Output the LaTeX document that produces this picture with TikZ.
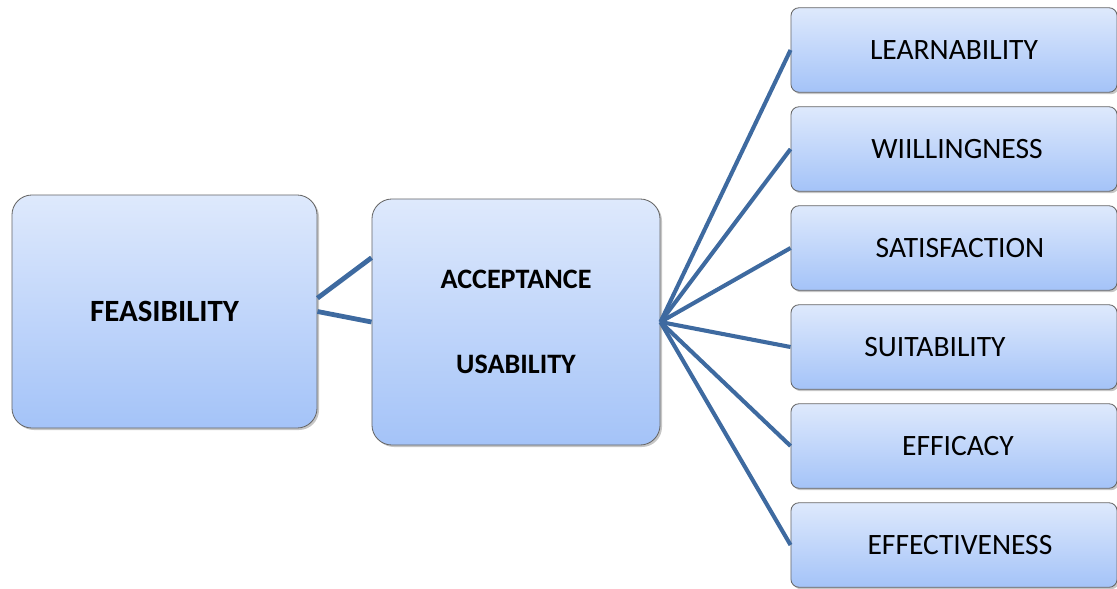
\documentclass[tikz,border=0pt]{standalone}
\usepackage{fontspec}
\setmainfont{Carlito}
\usetikzlibrary{shadows}
\definecolor{linkblue}{RGB}{62,106,160}
\definecolor{boxtop}{RGB}{222,233,252}
\definecolor{boxbot}{RGB}{164,195,248}
\begin{document}
\begin{tikzpicture}[x=0.025cm, y=-0.025cm,
    box/.style={draw=black!60, line width=0.6pt, top color=boxtop,
      bottom color=boxbot, rounded corners=0.5cm, inner sep=0pt,
      drop shadow={shadow xshift=1.4pt, shadow yshift=-1.4pt, opacity=0.45}},
    link/.style={draw=linkblue, line width=3.4pt}]
  \useasboundingbox (0,0) rectangle (1117,588);
  \node[box, minimum width=7.625cm, minimum height=5.825cm,
    font=\fontsize{22}{26}\selectfont\bfseries] (feas) at (164.5,311.5) {FEASIBILITY};
  \node[box, minimum width=7.2cm, minimum height=6.15cm, align=center,
    font=\fontsize{20}{24}\selectfont\bfseries] (accept) at (516,322)
    {ACCEPTANCE\\[36pt]USABILITY};
  \draw[link] (feas.5) -- (accept.156);
  \draw[link] (feas.east) -- (accept.west);
  \foreach \lbl/\dx [count=\i] in {LEARNABILITY/0, WIILLINGNESS/3, SATISFACTION/6,
      SUITABILITY/-19, EFFICACY/4, EFFECTIVENESS/6}{
    \node[box, rounded corners=0.2cm, minimum width=8.15cm, minimum height=2.1125cm,
      label={[xshift=\dx*0.025cm, font=\fontsize{21}{25}\selectfont]center:\lbl}]
      (attr\i) at (954,{-49+99*\i}) {};
    \draw[link, line width=2.9pt] (accept.east) -- (attr\i.west);
  }
\end{tikzpicture}
\end{document}
